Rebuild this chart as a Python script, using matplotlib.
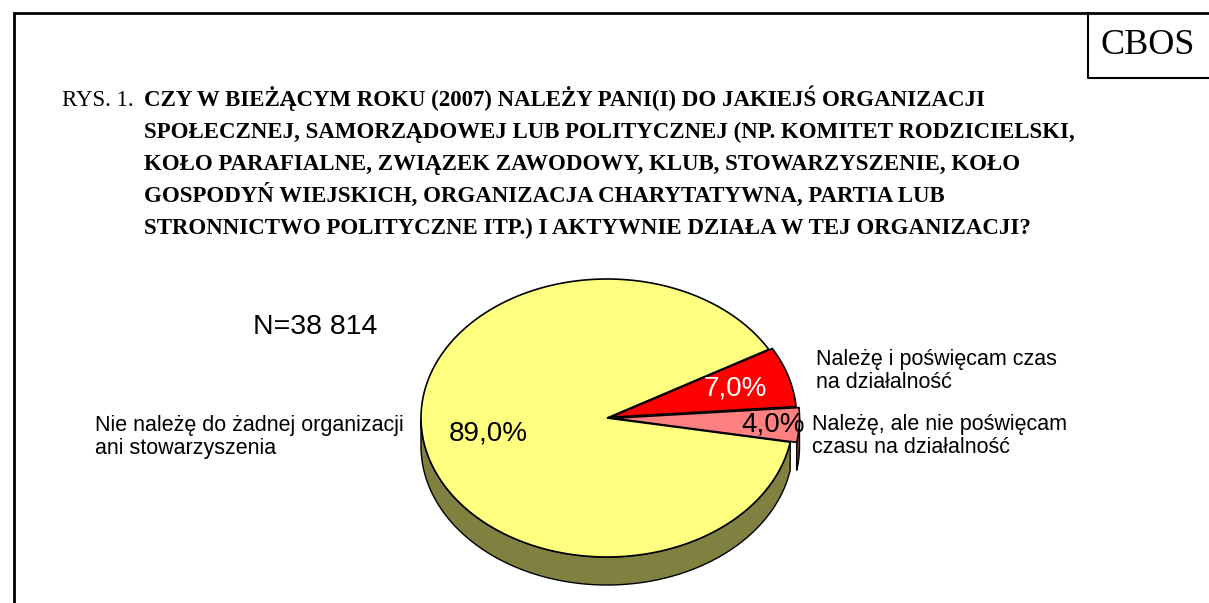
import numpy as np
import matplotlib
matplotlib.use("Agg")
from matplotlib import pyplot as plt
from matplotlib.patches import Polygon

# data
labels = ["Nie należę do żadnej organizacji\nani stowarzyszenia",
          "Należę i poświęcam czas\nna działalność",
          "Należę, ale nie poświęcam\nczasu na działalność"]
values = [89.0, 7.0, 4.0]
pct_labels = ["89,0%", "7,0%", "4,0%"]
n_label = "N=38 814"

top_colors = ["#FFFF80", "#FF0000", "#FF8080"]
side_colors = ["#808040", "#800000", "#804040"]
pct_colors = ["black", "white", "black"]
explode = [0.0, 0.02, 0.035]
pct_radius = [0.65, 0.7, 0.86]

title_lines = [
    "CZY W BIEŻĄCYM ROKU (2007) NALEŻY PANI(I) DO JAKIEJŚ ORGANIZACJI",
    "SPOŁECZNEJ, SAMORZĄDOWEJ LUB POLITYCZNEJ (NP. KOMITET RODZICIELSKI,",
    "KOŁO PARAFIALNE, ZWIĄZEK ZAWODOWY, KLUB, STOWARZYSZENIE, KOŁO",
    "GOSPODYŃ WIEJSKICH, ORGANIZACJA CHARYTATYWNA, PARTIA LUB",
    "STRONNICTWO POLITYCZNE ITP.) I AKTYWNIE DZIAŁA W TEJ ORGANIZACJI?",
]

W, H = 1209, 603
fig = plt.figure(figsize=(W / 100, H / 100), dpi=100)
ax = fig.add_axes([0, 0, 1, 1])
ax.set_xlim(0, W)
ax.set_ylim(H, 0)
ax.axis("off")

# frame + CBOS box
ax.plot([14, 14, W + 5], [H + 5, 13, 13], color="black", lw=2, solid_joinstyle="miter")
ax.plot([1088, 1088, W + 5], [13, 78, 78], color="black", lw=1.5)
ax.text(1148, 46, "CBOS", fontsize=26, family="Liberation Serif", ha="center", va="center")

# title
ax.text(62, 106, "RYS. 1.", fontsize=16.5, family="Liberation Serif", va="baseline")
for i, line in enumerate(title_lines):
    ax.text(144, 106 + 32 * i, line, fontsize=16.5, family="Liberation Serif",
            weight="bold", va="baseline")

# 3D pie
cx, cy, rx, ry, depth = 607, 418, 186, 139, 28
start = -10.0
fracs = np.array(values) / sum(values) * 360
# go counter-clockwise from the small slice back to the big one
bounds = {}
a = start
for i in reversed(range(len(values))):
    bounds[i] = (a, a + fracs[i])
    a += fracs[i]


def pt(t, ox, oy, dz=0):
    r = np.radians(t)
    return cx + ox + rx * np.cos(r), cy + oy - ry * np.sin(r) + dz


offsets = {}
for i in range(len(values)):
    t1, t2 = bounds[i]
    mid = np.radians((t1 + t2) / 2)
    offsets[i] = (explode[i] * rx * np.cos(mid), -explode[i] * ry * np.sin(mid))

# side walls
for i in range(len(values)):
    t1, t2 = bounds[i]
    ox, oy = offsets[i]
    ts = np.linspace(t1, t2, 400)
    ts = ts[np.sin(np.radians(ts)) <= 0]
    if len(ts) < 2:
        continue
    xs, ys = pt(ts, ox, oy)
    xb, yb = pt(ts[::-1], ox, oy, depth)
    poly = np.column_stack([np.r_[xs, xb], np.r_[ys, yb]])
    ax.add_patch(Polygon(poly, closed=True, fc=side_colors[i], ec="black", lw=1))

# top faces
for i in range(len(values)):
    t1, t2 = bounds[i]
    ox, oy = offsets[i]
    ts = np.linspace(t1, t2, 400)
    xs, ys = pt(ts, ox, oy)
    poly = np.column_stack([np.r_[cx + ox, xs], np.r_[cy + oy, ys]])
    ax.add_patch(Polygon(poly, closed=True, fc=top_colors[i], ec="black", lw=1.2))

# percentage labels
for i in range(len(values)):
    t1, t2 = bounds[i]
    ox, oy = offsets[i]
    mid = np.radians((t1 + t2) / 2)
    x = cx + ox + pct_radius[i] * rx * np.cos(mid)
    y = cy + oy - pct_radius[i] * ry * np.sin(mid)
    ax.text(x, y, pct_labels[i], fontsize=20, family="Liberation Sans",
            color=pct_colors[i], ha="center", va="center")

# category labels
label_pos = [(95, 437), (816, 371), (812, 436)]
for (x, y), lab in zip(label_pos, labels):
    ax.text(x, y, lab, fontsize=15.5, family="Liberation Sans", ha="left", va="center",
            linespacing=1.15)

ax.text(253, 327, n_label, fontsize=20.5, family="Liberation Sans", ha="left", va="center")

fig.savefig("out.png", dpi=100)
